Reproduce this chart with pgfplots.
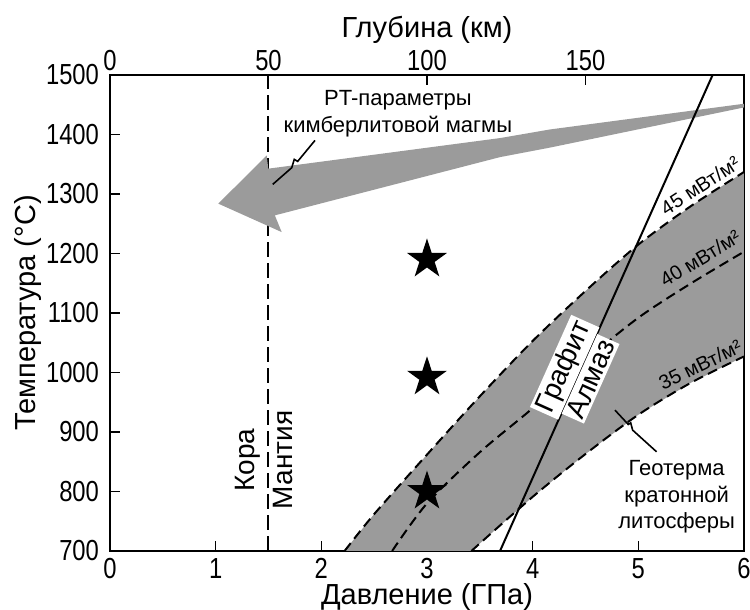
\documentclass[border=0pt]{standalone}
\usepackage{fontspec}
\setmainfont{Liberation Sans}
\newfontfamily\narrowfont{Liberation Sans}[FakeStretch=0.82]
\usepackage{pgfplots}
\pgfplotsset{compat=1.18}
\definecolor{bandgray}{RGB}{155,155,155}
\pgfdeclareplotmark{fstar}{%
  \pgfpathmoveto{\pgfpointpolar{90}{\pgfplotmarksize}}%
  \pgfpathlineto{\pgfpointpolar{126}{0.382\pgfplotmarksize}}%
  \pgfpathlineto{\pgfpointpolar{162}{\pgfplotmarksize}}%
  \pgfpathlineto{\pgfpointpolar{198}{0.382\pgfplotmarksize}}%
  \pgfpathlineto{\pgfpointpolar{234}{\pgfplotmarksize}}%
  \pgfpathlineto{\pgfpointpolar{270}{0.382\pgfplotmarksize}}%
  \pgfpathlineto{\pgfpointpolar{306}{\pgfplotmarksize}}%
  \pgfpathlineto{\pgfpointpolar{342}{0.382\pgfplotmarksize}}%
  \pgfpathlineto{\pgfpointpolar{18}{\pgfplotmarksize}}%
  \pgfpathlineto{\pgfpointpolar{54}{0.382\pgfplotmarksize}}%
  \pgfpathclose\pgfusepathqfill}
\begin{document}
\begin{tikzpicture}[font=\fontsize{14.5}{17}\selectfont]
\path[use as bounding box] (-55pt,-29.5pt) rectangle (320pt,275.5pt);
\begin{axis}[
  at={(0,0)}, anchor=south west,
  scale only axis, width=317pt, height=238pt,
  xmin=0, xmax=6, ymin=700, ymax=1500,
  xtick={0,1,2,3,4,5,6}, ytick={700,800,900,1000,1100,1200,1300,1400,1500},
  xtick pos=bottom, ytick pos=left, tick align=inside,
  major tick length=5pt,
  axis line style={line width=1pt}, tick style={line width=0.8pt, black},
  xlabel={Давление (ГПа)}, ylabel={Температура (°C)},
  xlabel style={at={(axis description cs:0.5,-0.0966)}, anchor=center, font=\fontsize{14.5}{17}\selectfont},
  ylabel style={at={(axis description cs:-0.1293,0.5)}, anchor=center, font=\fontsize{14.5}{17}\selectfont},
  /pgf/number format/assume math mode=true,
  /pgf/number format/1000 sep={},
  tick label style={font=\narrowfont\fontsize{14.5}{17}\selectfont},
  xticklabel style={yshift=0pt},
  yticklabel style={xshift=-2pt},
  clip=true,
]
% geotherm band
\addplot[fill=bandgray, draw=none] coordinates {
 (2.22,700) (2.5,762) (3.0,862) (3.5,960) (4.0,1053) (4.5,1137) (5.0,1215) (5.5,1280) (6.0,1337)
 (6.0,1027) (5.5,983) (5.0,929) (4.5,863) (4.0,791) (3.42,700)} -- cycle;
% geotherms
\addplot[black, line width=1pt, dash pattern=on 5pt off 2.8pt, smooth] coordinates {
 (2.22,700) (2.5,762) (3.0,862) (3.5,960) (4.0,1053) (4.5,1137) (5.0,1215) (5.5,1280) (6.0,1337)};
\addplot[black, line width=1pt, dash pattern=on 5pt off 2.8pt, smooth] coordinates {
 (2.67,700) (3.0,780) (3.5,866) (4.0,940) (4.5,1020) (5.0,1092) (5.5,1150) (6.0,1203)};
\addplot[black, line width=1pt, dash pattern=on 5pt off 2.8pt, smooth] coordinates {
 (3.42,700) (4.0,791) (4.5,863) (5.0,929) (5.5,983) (6.0,1027)};
% crust-mantle boundary
\addplot[black, line width=1pt, dash pattern=on 7.5pt off 3pt] coordinates {(1.5,700) (1.5,1500)};
% arrow
\addplot[fill=bandgray, draw=none] coordinates {
 (1.025,1283.8) (1.483,1364.9) (1.498,1342.6) (3.691,1394) (4.164,1408.5) (6.0,1451.7)
 (6.0,1445.5) (4.164,1378) (3.691,1362) (1.560,1264.1) (1.625,1236)} -- cycle;
% graphite-diamond
\addplot[black, line width=1pt] coordinates {(3.691,700) (5.703,1500)};
% leaders
\addplot[black, line width=0.8pt] coordinates {(1.940,1390.1) (1.776,1354.8) (1.744,1358.2) (1.720,1344.2) (1.540,1316.2)};
\addplot[black, line width=0.8pt] coordinates {(4.779,936.7) (4.905,912.7) (4.928,915.4) (4.946,903.2) (5.173,866.7)};
% stars
\addplot[only marks, mark=fstar, mark size=10.5pt, black] coordinates {(3,1190) (3,992) (3,800)};
% labels
\node[align=center, font=\fontsize{11}{13.5}\selectfont] at (axis cs:2.725,1434.5) {PT-параметры\\кимберлитовой магмы};
\node[rotate=90, font=\fontsize{14}{16}\selectfont] at (axis cs:1.306,853) {Кора};
\node[rotate=90, font=\fontsize{14}{16}\selectfont] at (axis cs:1.637,853) {Мантия};
\node[rotate=65.9, anchor=south, fill=white, inner sep=1.2pt, font=\fontsize{14}{16}\selectfont] at (axis cs:4.44,998) {Графит};
\node[rotate=65.9, anchor=north, fill=white, inner sep=1.2pt, font=\fontsize{14}{16}\selectfont] at (axis cs:4.44,998) {Алмаз};
\node[rotate=33, font=\fontsize{10}{12}\selectfont] at (axis cs:5.584,1314) {45 мВт/м²};
\node[rotate=31, font=\fontsize{10}{12}\selectfont] at (axis cs:5.584,1192) {40 мВт/м²};
\node[rotate=26, font=\fontsize{10}{12}\selectfont] at (axis cs:5.584,1013) {35 мВт/м²};
\node[align=center, font=\fontsize{11}{13.3}\selectfont] at (axis cs:5.363,791) {Геотерма\\кратонной\\литосферы};
\end{axis}
\begin{axis}[
  at={(0,0)}, anchor=south west,
  scale only axis, width=317pt, height=238pt,
  xmin=0, xmax=200, ymin=700, ymax=1500,
  axis x line*=top, axis y line=none,
  xtick={0,50,100,150}, tick align=inside, major tick length=5pt,
  axis line style={line width=1pt}, tick style={line width=0.8pt, black},
  xlabel={Глубина (км)},
  xlabel style={at={(axis description cs:0.5,1.0945)}, anchor=center, font=\fontsize{14.5}{17}\selectfont},
  /pgf/number format/assume math mode=true,
  tick label style={font=\narrowfont\fontsize{14.5}{17}\selectfont},
  xticklabel style={yshift=-1.5pt},
]
\addplot[draw=none] coordinates {(0,700)};
\end{axis}
\end{tikzpicture}
\end{document}
